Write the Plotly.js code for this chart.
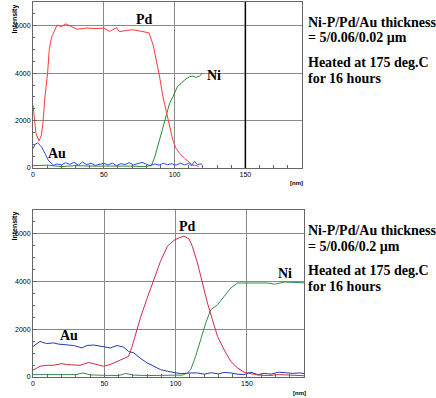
<!DOCTYPE html>
<html>
<head>
<meta charset="utf-8">
<script src="https://cdn.plot.ly/plotly-3.0.1.min.js"></script>
<style>html,body{margin:0;padding:0;background:#fff;}#chart{width:436px;height:398px;}</style>
</head>
<body>
<div id="chart"></div>
<script>
// ---- Top panel (Au 0.02 um) ----
var topPdX = [0, 1, 2.1, 4.2, 5.9, 7.0, 8.2, 10.3, 11.5, 13, 16, 17, 20, 23, 26, 31, 38, 45, 50, 54, 59, 61, 66, 70, 75, 80, 82, 85, 87, 89.4, 91.8, 94, 96.5, 98.8, 101, 103.5, 107, 110.6, 112.9, 115, 117];
var topPdY = [2650, 2000, 1460, 1140, 1370, 1880, 2860, 4000, 5000, 5500, 5950, 6030, 5960, 6080, 6000, 5850, 5900, 5880, 5900, 5760, 5920, 5750, 5800, 5830, 5780, 5700, 5700, 5160, 4580, 3850, 3000, 2440, 1730, 1170, 830, 620, 410, 210, 110, 110, 60];
var topNiX = [0, 10, 20, 30, 40, 50, 60, 70, 78, 83.6, 86, 89.4, 93, 96.5, 98.8, 102, 104.7, 107, 110.6, 113, 115, 117.6, 119.5];
var topNiY = [100, 120, 60, 100, 80, 90, 70, 80, 60, 100, 460, 1170, 2020, 2730, 3000, 3430, 3570, 3710, 3850, 3880, 3820, 3880, 3990];
var topAuX = [0, 1.5, 3.3, 6, 8.5, 10.8, 14.3, 17, 20, 23, 26, 29, 32, 35, 38, 41, 44, 47, 50, 53, 56, 59, 62, 65, 68, 71, 74, 77, 80, 83, 86, 89, 92, 95, 98, 101, 104, 107, 110, 112, 114, 116, 119.5];
var topAuY = [820, 1000, 1060, 890, 610, 330, 110, 170, 130, 220, 150, 240, 120, 250, 140, 200, 110, 170, 200, 130, 210, 100, 180, 150, 220, 130, 190, 240, 160, 100, 170, 120, 200, 140, 180, 120, 210, 130, 190, 100, 280, 150, 170];

// ---- Bottom panel (Au 0.2 um) ----
var botAuX = [0, 4.9, 9.6, 14.3, 17.8, 23.7, 28.4, 34.3, 37.8, 42.5, 47.2, 50, 54.2, 59, 63.6, 67, 70.6, 75.4, 80, 84.7, 89.4, 94.2, 98.8, 103.5, 110.6, 115.3, 120, 125, 130, 134, 138.7, 143, 148, 152.8, 157.5, 162, 167, 172, 177, 182, 187, 191];
var botAuY = [1280, 1490, 1400, 1430, 1380, 1360, 1320, 1220, 1320, 1340, 1290, 1250, 1220, 1320, 1250, 1070, 1010, 780, 590, 450, 310, 240, 200, 140, 170, 170, 120, 180, 130, 190, 170, 120, 100, 200, 100, 150, 120, 200, 180, 150, 170, 140];
var botPdX = [0, 1.4, 4.9, 9.6, 14.3, 20.2, 23.7, 33, 39, 42.5, 49.5, 54, 61.3, 67, 69.5, 75.4, 80, 84.7, 89.4, 94.2, 98.8, 102.3, 105.9, 109.4, 111.7, 115.3, 118.8, 122.3, 125.8, 129.4, 134, 138.7, 143.4, 148, 152.8, 158, 165, 172, 180, 186, 191];
var botPdY = [300, 330, 450, 490, 490, 560, 520, 490, 610, 560, 450, 520, 720, 860, 1280, 2500, 3300, 4080, 4850, 5480, 5730, 5830, 5900, 5790, 5480, 4780, 3940, 3100, 2400, 1700, 1140, 650, 380, 200, 140, 80, 60, 100, 80, 60, 50];
var botNiX = [0, 10, 20, 30, 35, 40, 50, 60, 65, 70, 80, 90, 100, 105, 108.2, 110.6, 114, 117.6, 121.1, 124.6, 129.4, 134, 138.7, 143.4, 150.5, 157.5, 164.6, 169.3, 176.3, 185.7, 191];
var botNiY = [100, 90, 80, 100, 170, 90, 70, 60, 150, 80, 60, 70, 60, 80, 170, 310, 860, 1560, 2260, 2820, 3030, 3380, 3730, 3940, 3940, 3960, 3940, 3890, 3980, 3960, 3940];

var xTicks = [0, 50, 100, 150];
var yTicks = [0, 2000, 4000, 6000];
var noteTop = ["Ni-P/Pd/Au thickness", "= 5/0.06/0.02 \u00b5m", "Heated at 175 deg.C", "for 16 hours"];
var noteBot = ["Ni-P/Pd/Au thickness", "= 5/0.06/0.2 \u00b5m", "Heated at 175 deg.C", "for 16 hours"];

function tr(x, y, color, xa, ya) {
  return {x: x, y: y, type: 'scatter', mode: 'lines', xaxis: xa, yaxis: ya,
          line: {color: color, width: 1}, hoverinfo: 'skip'};
}
var data = [
  tr(topNiX, topNiY, '#2e8b2e', 'x', 'y'),
  tr(topAuX, topAuY, '#2a4cff', 'x', 'y'),
  tr(topPdX, topPdY, '#ff3a3a', 'x', 'y'),
  tr(botNiX, botNiY, '#3a8a4a', 'x2', 'y2'),
  tr(botAuX, botAuY, '#2238c0', 'x2', 'y2'),
  tr(botPdX, botPdY, '#d02c44', 'x2', 'y2')
];

var tickFont = {family: 'Liberation Sans, Arial', size: 7, color: '#000'};
function xax(domain, anchor) {
  return {domain: domain, anchor: anchor, range: [0, 190], tickvals: xTicks,
          showline: true, mirror: true, linecolor: '#666', linewidth: 1,
          showgrid: true, gridcolor: '#8a8a8a', gridwidth: 1, zeroline: false,
          ticks: 'inside', ticklen: 4, tickcolor: '#666', tickfont: tickFont,
          minor: {dtick: 10, tick0: 0, ticks: 'inside', ticklen: 3, tickcolor: '#666', showgrid: false}};
}
function yax(domain, anchor) {
  return {domain: domain, anchor: anchor, range: [0, 7000], tickvals: yTicks,
          showline: true, mirror: true, linecolor: '#666', linewidth: 1,
          showgrid: true, gridcolor: '#8a8a8a', gridwidth: 1, zeroline: false,
          ticks: 'inside', ticklen: 4, tickcolor: '#666', tickfont: tickFont,
          minor: {dtick: 500, tick0: 0, ticks: 'inside', ticklen: 2, tickcolor: '#666', showgrid: false}};
}

var PH = 375, TOP = 2, BOT0 = 377;
function py(p) { return (BOT0 - p) / PH; }
var noteX = (306 - 33) / 271;
var serif = {family: 'Liberation Serif, Times New Roman', size: 14, color: '#000'};
var labFont = {family: 'Liberation Serif, Times New Roman', size: 14, color: '#000'};
var annotations = [];
function note(lines, ys) {
  for (var i = 0; i < lines.length; i++) {
    annotations.push({xref: 'paper', yref: 'paper', x: noteX, y: py(ys[i]), xanchor: 'left', yanchor: 'middle',
      text: '<b>' + lines[i] + '</b>', showarrow: false, font: serif});
  }
}
note(noteTop, [22, 38, 62, 78]);
note(noteBot, [230, 246, 270, 286]);
function lab(t, x, y, xa, ya) {
  annotations.push({xref: xa, yref: ya, x: x, y: y, text: '<b>' + t + '</b>', showarrow: false, font: labFont,
    xanchor: 'center', yanchor: 'middle'});
}
lab('Pd', 79, 6250, 'x', 'y');
lab('Ni', 128, 3920, 'x', 'y');
lab('Au', 17, 620, 'x', 'y');
lab('Pd', 108, 6300, 'x2', 'y2');
lab('Ni', 177, 4330, 'x2', 'y2');
lab('Au', 25, 1730, 'x2', 'y2');
function ytitle(pTop) {
  annotations.push({xref: 'paper', yref: 'paper', x: 0, xshift: -19, y: py(pTop), xanchor: 'center', yanchor: 'top',
    textangle: -90, text: '<b>Intensity</b>', showarrow: false, font: {family: 'Liberation Sans, Arial', size: 7, color: '#000'}});
}
ytitle(3);
ytitle(210);
function nm(px, pyy) {
  annotations.push({xref: 'paper', yref: 'paper', x: (px - 33) / 271, y: py(pyy), xanchor: 'center', yanchor: 'middle',
    text: '<b>[nm]</b>', showarrow: false, font: {family: 'Liberation Sans, Arial', size: 6, color: '#000'}});
}
nm(296, 183);
nm(299, 393);

var layout = {
  width: 436, height: 398,
  margin: {l: 33, r: 132, t: TOP, b: 21},
  paper_bgcolor: '#fff', plot_bgcolor: '#fff',
  showlegend: false,
  xaxis: xax([0, (302 - 33) / 271], 'y'),
  yaxis: yax([py(168), 1], 'x'),
  xaxis2: xax([0, 1], 'y2'),
  yaxis2: yax([0, py(210)], 'x2'),
  shapes: [{type: 'line', xref: 'x', yref: 'y domain', x0: 150, x1: 150, y0: 0, y1: 1,
            line: {color: '#000', width: 1.5}}],
  annotations: annotations
};
Plotly.newPlot('chart', data, layout, {displayModeBar: false, staticPlot: true});
</script>
</body>
</html>
